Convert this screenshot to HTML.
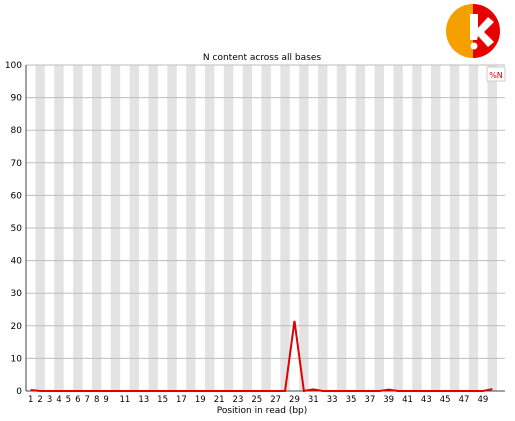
<!DOCTYPE html>
<html><head><meta charset="utf-8"><style>
html,body{margin:0;padding:0;background:#fff;}
svg{display:block;font-family:"DejaVu Sans","Liberation Sans",sans-serif;}
</style></head><body>
<svg id="chart" width="515" height="421">
  <g id="stripes"></g>
  <g id="grid"></g>
  <line x1="26" y1="65" x2="26" y2="391" stroke="#444" stroke-width="1"/>
  <line x1="26" y1="391" x2="505" y2="391" stroke="#444" stroke-width="1"/>
  <g id="ylabels"></g>
  <g id="xlabels"></g>
  <polyline id="line" fill="none" stroke="#e00000" stroke-width="2"/>
  <text x="262" y="60" font-size="9" text-anchor="middle" fill="#000">N content across all bases</text>
  <text x="262" y="413" font-size="9" text-anchor="middle" fill="#000">Position in read (bp)</text>
  <g>
    <rect x="487" y="67" width="18" height="14" fill="#fff" stroke="#ccc"/>
    <text x="496" y="78" font-size="8" text-anchor="middle" fill="#e00000">%N</text>
  </g>
  <g>
    <defs><clipPath id="lc"><rect x="446" y="0" width="27" height="60"/></clipPath><clipPath id="rc"><rect x="473" y="0" width="30" height="60"/></clipPath></defs>
    <circle cx="473" cy="31" r="27" fill="#f5a000" clip-path="url(#lc)"/>
    <circle cx="473" cy="31" r="27" fill="#e80000" clip-path="url(#rc)"/>
    <path d="M470 14 L478 14 L478 28 L488 17 L494 22 L484 32 L494 42 L488 47 L478 36 L477 40 L470 40 Z" fill="#fff"/>
    <circle cx="474" cy="46" r="3.5" fill="#fff"/>
  </g>
</svg>
<script>
const positions = [];
for (let i = 1; i <= 50; i++) positions.push(i);
const nPercent = [0.3,0,0,0,0,0,0,0,0,0, 0,0,0,0,0,0,0,0,0,0, 0,0,0,0,0,0,0,0,21.5,0, 0.5,0,0,0,0,0,0,0,0.4,0, 0,0,0,0,0,0,0,0,0,0.6];
const yTicks = [0,10,20,30,40,50,60,70,80,90,100];
const xTickLabels = [1,2,3,4,5,6,7,8,9,11,13,15,17,19,21,23,25,27,29,31,33,35,37,39,41,43,45,47,49];
const NS = "http://www.w3.org/2000/svg";
const colW = 9.42, x0 = 26;
function xs(p){ return x0 + (p - 0.5) * colW; }
function ys(v){ return 391 - v * 3.26; }
const st = document.getElementById('stripes');
positions.forEach(p => {
  if (p % 2 === 0) {
    const r = document.createElementNS(NS,'rect');
    r.setAttribute('x', xs(p) - colW/2); r.setAttribute('y', 65);
    r.setAttribute('width', colW); r.setAttribute('height', 326);
    r.setAttribute('fill', '#e3e3e3');
    
    
    st.appendChild(r);
  }
});
const g = document.getElementById('grid'), yl = document.getElementById('ylabels');
yTicks.forEach(t => {
  const y = ys(t);
  if (t > 0) {
    const l = document.createElementNS(NS,'line');
    l.setAttribute('x1', 26); l.setAttribute('x2', 505); l.setAttribute('y1', y); l.setAttribute('y2', y);
    l.setAttribute('stroke', '#bdbdbd'); l.setAttribute('stroke-width', 1);
    
    
    g.appendChild(l);
  }
  const tx = document.createElementNS(NS,'text');
  tx.setAttribute('x', 22); tx.setAttribute('y', y + 3); tx.setAttribute('font-size', 9);
  tx.setAttribute('text-anchor', 'end'); tx.textContent = t;
  
  
  yl.appendChild(tx);
});
const xl = document.getElementById('xlabels');
xTickLabels.forEach(p => {
  const tx = document.createElementNS(NS,'text');
  tx.setAttribute('x', xs(p)); tx.setAttribute('y', 402); tx.setAttribute('font-size', 8.5);
  tx.setAttribute('text-anchor', 'middle'); tx.textContent = p;
  
  
  xl.appendChild(tx);
});
document.getElementById('line').setAttribute('points', positions.map((p,i) => xs(p) + ',' + ys(nPercent[i])).join(' '));
</script>
</body></html>
